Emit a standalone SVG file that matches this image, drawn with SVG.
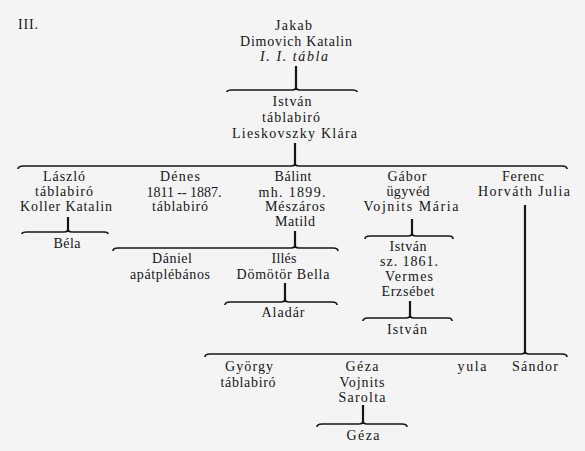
<svg xmlns="http://www.w3.org/2000/svg" width="585" height="451" viewBox="0 0 585 451">
<style>
text{font-family:"Liberation Serif","Times New Roman",serif;font-size:14px;fill:#161616;text-anchor:middle}
.l{fill:none;stroke:#161616;stroke-width:2.2}
.b{fill:none;stroke:#161616;stroke-width:1.7}
</style>
<rect width="585" height="451" fill="#f4f4f4"/>
<text x="28" y="29" textLength="20">III.</text>
<g id="jakab"><text x="293.5" y="30" textLength="37">Jakab</text><text x="296" y="46" textLength="112">Dimovich Katalin</text><text x="294" y="61" textLength="68" font-style="italic">I. I. tábla</text></g>
<g id="istvan1"><text x="292" y="106" textLength="39">István</text><text x="291" y="122" textLength="58">táblabiró</text><text x="294.5" y="138" textLength="125">Lieskovszky Klára</text></g>
<g id="laszlo"><text x="64" y="181" textLength="42">László</text><text x="64" y="196" textLength="58">táblabiró</text><text x="66" y="211" textLength="92">Koller Katalin</text></g>
<g id="bela"><text x="67" y="248" textLength="27">Béla</text></g>
<g id="denes"><text x="180" y="181" textLength="40">Dénes</text><text x="184" y="197" textLength="75">1811 -- 1887.</text><text x="180" y="211" textLength="56">táblabiró</text></g>
<g id="balint"><text x="293" y="181" textLength="37">Bálint</text><text x="292" y="197" textLength="67">mh. 1899.</text><text x="295" y="211" textLength="60">Mészáros</text><text x="295" y="226" textLength="40">Matild</text></g>
<g id="daniel"><text x="172" y="263" textLength="40">Dániel</text><text x="170" y="279" textLength="80">apátplébános</text></g>
<g id="illes"><text x="284" y="263" textLength="25">Illés</text><text x="283" y="279" textLength="93">Dömötör Bella</text></g>
<g id="aladar"><text x="283" y="317" textLength="43">Aladár</text></g>
<g id="gabor"><text x="407" y="181" textLength="39">Gábor</text><text x="408" y="196" textLength="43">ügyvéd</text><text x="411" y="211" textLength="95">Vojnits Mária</text></g>
<g id="istvan2"><text x="408" y="251" textLength="37">István</text><text x="409" y="266" textLength="58">sz. 1861.</text><text x="409" y="281" textLength="48">Vermes</text><text x="408" y="296" textLength="53">Erzsébet</text></g>
<g id="istvan3"><text x="407" y="334" textLength="40">István</text></g>
<g id="ferenc"><text x="523" y="181" textLength="42">Ferenc</text><text x="524" y="196" textLength="92">Horváth Julia</text></g>
<g id="gyorgy"><text x="249" y="371" textLength="48">György</text><text x="248" y="387" textLength="55">táblabiró</text></g>
<g id="geza1"><text x="362" y="371" textLength="33">Géza</text><text x="362" y="387" textLength="45">Vojnits</text><text x="362" y="402" textLength="47">Sarolta</text></g>
<g id="geza2"><text x="363" y="440" textLength="33">Géza</text></g>
<g id="gyula"><text x="472" y="371" textLength="29">yula</text></g>
<g id="sandor"><text x="535" y="371" textLength="46">Sándor</text></g>
<g id="connectors">
<path class="l" d="M296,66V88M295,143V164M68,217V230M295,231V246M285,283V300M412,219V234M410,301V316M525,205V352M363,405V422"/>
<path class="b" d="M227,92Q227,90 232,90H292Q296,90 296,87Q296,90 300,90H352Q357,90 357,92"/>
<path class="b" d="M18,169Q18,166 24,166H291Q295,166 295,163Q295,166 299,166H562Q567,166 567,169"/>
<path class="b" d="M22,234Q22,232 27,232H64Q68,232 68,229Q68,232 72,232H104Q108,232 108,234"/>
<path class="b" d="M113,251Q113,248 118,248H291Q295,248 295,245Q295,248 299,248H333Q338,248 338,251"/>
<path class="b" d="M225,305Q225,302 230,302H281Q285,302 285,299Q285,302 289,302H332Q337,302 337,305"/>
<path class="b" d="M365,239Q365,236 370,236H408Q412,236 412,233Q412,236 416,236H449Q453,236 453,239"/>
<path class="b" d="M363,321Q363,318 368,318H406Q410,318 410,315Q410,318 414,318H448Q452,318 452,321"/>
<path class="b" d="M205,357Q205,354 210,354H521Q525,354 525,351Q525,354 529,354H562Q567,354 567,357"/>
<path class="b" d="M317,427Q317,424 322,424H359Q363,424 363,421Q363,424 367,424H402Q407,424 407,427"/>
</g>
</svg>
